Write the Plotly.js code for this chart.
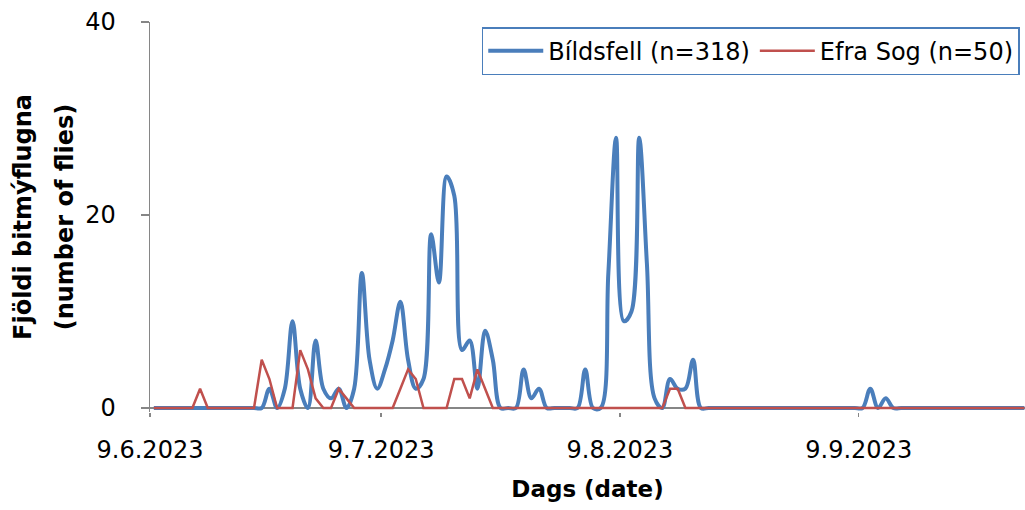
<!DOCTYPE html>
<html>
<head>
<meta charset="utf-8">
<script src="https://cdn.plot.ly/plotly-3.0.1.min.js"></script>
<style>
  html, body { margin: 0; padding: 0; background: #ffffff; }
  #chart { width: 1025px; height: 510px; }
</style>
</head>
<body>
<div id="chart"></div>
<script>
// ---- Data (daily counts, first day = 9.6.2023) ----
const startDate = '2023-06-09';
const seriesNames = ['Bíldsfell (n=318)', 'Efra Sog (n=50)'];
const bildsfell = [
  0,0,0,0,0,0,0,0,0,0,0,0,0,0,0,
  2,0,2,9,2,0,7,2,1,2,0,2,14,5,2,4,7,11,5,2,3,18,13,24,22,6,7,2,8,5,
  0,0,0,
  4,1,2,
  0,0,0,0,0,
  4,
  0,0,
  14,28,9,10,28,15,1,0,3,2,2,5,
  0,0,0,0,0,0,0,0,0,0,0,0,0,0,0,0,0,0,0,0,0,0,
  2,0,1,
  0,0,0,0,0,0,0,0,0,0,0,0,0,0,0,0,0,0
];
const efraSog = [
  0,0,0,0,0,0,
  2,
  0,0,0,0,0,0,0,
  5,3,
  0,0,0,
  6,4,1,
  0,0,
  2,1,
  0,0,0,0,0,0,
  2,4,3,
  0,0,0,0,
  3,3,1,4,2,
  0,0,0,0,0,0,0,0,0,0,0,0,0,0,0,0,0,0,0,0,0,0,0,
  2,2,
  0,0,0,0,0,0,0,0,0,0,0,0,0,0,0,0,0,0,0,0,0,0,0,0,0,0,0,0,0,0,0,0,0,0,0,0,0,0,0,0,0,0,0,0,0
];
const tickDates = ['2023-06-09', '2023-07-09', '2023-08-09', '2023-09-09'];
const tickLabels = ['9.6.2023', '9.7.2023', '9.8.2023', '9.9.2023'];
const yTicks = [0, 20, 40];
const yTitleLines = ['Fjöldi bitmýflugna', '(number of flies)'];
const xTitle = 'Dags (date)';

// dates for each daily value, placed at midday (Excel date-axis centring)
function dayDates(n) {
  const out = [];
  const base = new Date(startDate + 'T12:00:00Z');
  for (let i = 0; i < n; i++) {
    const d = new Date(base.getTime() + i * 86400000);
    out.push(d.toISOString().slice(0, 10) + ' 12:00');
  }
  return out;
}

const FONT = 'DejaVu Sans, sans-serif';
const AXIS_GREY = '#868686';

const traces = [
  {
    x: dayDates(bildsfell.length), y: bildsfell, name: seriesNames[0],
    type: 'scatter', mode: 'lines',
    line: { color: '#4a7ebb', width: 4, shape: 'spline', smoothing: 1 }
  },
  {
    x: dayDates(efraSog.length), y: efraSog, name: seriesNames[1],
    type: 'scatter', mode: 'lines',
    line: { color: '#c0504d', width: 2.5, shape: 'linear' }
  }
];

const yTitleText = yTitleLines
  .map(s => '<span style="font-size:24px"><b>' + s + '</b></span>')
  .join('<br>');

const layout = {
  width: 1025, height: 510,
  margin: { l: 150, r: 0, t: 22, b: 98, pad: 0 },
  paper_bgcolor: '#ffffff', plot_bgcolor: '#ffffff',
  font: { family: FONT, color: '#000000', size: 24 },
  showlegend: true,
  legend: {
    orientation: 'h', x: 0.994, xanchor: 'right', y: 0.987, yanchor: 'top',
    bgcolor: '#ffffff', bordercolor: '#4a7ebb', borderwidth: 1.5,
    font: { family: FONT, size: 24, color: '#000000' },
    itemwidth: 55, traceorder: 'normal'
  },
  xaxis: {
    type: 'date',
    range: ['2023-06-09 00:00', '2023-09-30 14:00'],
    tickmode: 'array', tickvals: tickDates, ticktext: tickLabels,
    ticks: 'outside', ticklen: 4, tickwidth: 1.5, tickcolor: AXIS_GREY,
    showline: false, showgrid: false, zeroline: false,
    tickfont: { family: FONT, size: 24, color: '#000000' },
    ticklabelstandoff: 12,
    title: { text: '<b>' + xTitle + '</b>', font: { family: FONT, size: 23, color: '#000000' }, standoff: 18 },
    automargin: false, fixedrange: true
  },
  yaxis: {
    range: [-0.4145, 40],
    tickmode: 'array', tickvals: yTicks,
    ticks: 'outside', ticklen: 8, tickwidth: 1.5, tickcolor: AXIS_GREY,
    showline: true, linecolor: AXIS_GREY, linewidth: 1.5,
    showgrid: false,
    zeroline: true, zerolinecolor: AXIS_GREY, zerolinewidth: 1.5,
    tickfont: { family: FONT, size: 24, color: '#000000' },
    ticklabelstandoff: 20,
    title: { text: yTitleText, font: { family: FONT, size: 32, color: '#000000' }, standoff: 2 },
    automargin: false, fixedrange: true
  }
};

Plotly.newPlot('chart', traces, layout, { displayModeBar: false, staticPlot: true });
</script>
</body>
</html>
